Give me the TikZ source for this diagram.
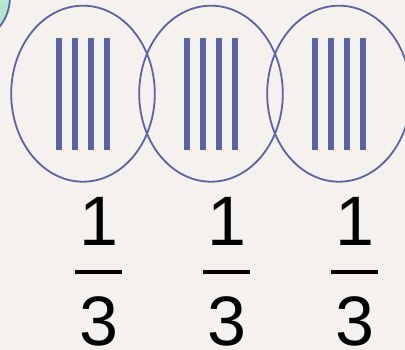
\documentclass[tikz,border=0pt]{standalone}
\usepackage{fontspec}
\setmainfont{Liberation Sans}
\definecolor{bg}{HTML}{F4F1EE}
\definecolor{ink}{HTML}{5C63A7}
\definecolor{mint}{HTML}{B4E6D1}
\begin{document}
\begin{tikzpicture}[x=1pt,y=-1pt,
  ring/.style={draw=ink,line width=1.8pt},
  tally/.style={fill=ink},
  digit/.style={font=\fontsize{70}{70}\selectfont,anchor=base,inner sep=0pt},
  fracbar/.style={draw=black,line width=4pt}]
\fill[bg] (0,0) rectangle (405,350);
\useasboundingbox (0,0) rectangle (405,350);
\begin{scope}
\clip (0,0) rectangle (405,350);
\draw[ring,fill=mint] (-38,-3) circle[radius=48];
\foreach \cx in {83,211,339} {
  \draw[ring] (\cx,93.7) ellipse[x radius=71.8,y radius=88];
  \foreach \d in {-24,-8,8,24} \fill[tally] (\cx+\d-3,38.3) rectangle (\cx+\d+3,150);
}
\end{scope}
\foreach \k/\fx in {1/98.5,2/226.5,3/354.5} {
  \node[digit] (num\k) at (\fx,246) {1};
  \node[digit] (den\k) at (\fx,345) {3};
  \coordinate (bl\k) at (\fx-23.8,272);
  \coordinate (br\k) at (\fx+23.8,272);
  \draw[fracbar] (bl\k) -- (br\k);
}
\end{tikzpicture}
\end{document}
